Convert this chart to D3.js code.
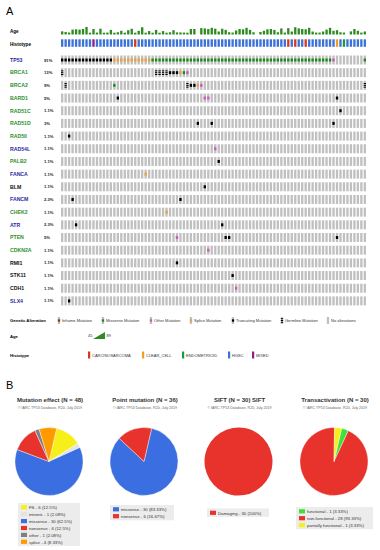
<!DOCTYPE html>
<html>
<head>
<meta charset="UTF-8">
<script src="https://d3js.org/d3.v7.min.js"></script>
<style>
  body { margin: 0; background: #fff; }
  svg { font-family: Arial, "Liberation Sans", sans-serif; }
</style>
</head>
<body>
<svg id="chart" width="380" height="550"></svg>
<script>
// ---------- data: panel A (oncoprint) ----------
const genes = ["TP53","BRCA1","BRCA2","BARD1","RAD51C","RAD51D","RAD50","RAD54L","PALB2","FANCA",
               "BLM","FANCM","CHEK2","ATR","PTEN","CDKN2A","RMI1","STK11","CDH1","SLX4"];
const pctLabels = ["91%","13%","9%","5%","1.1%","3%","1.1%","1.1%","1.1%","1.1%",
                   "1.1%","2.3%","1.1%","2.3%","5%","1.1%","1.1%","1.1%","1.1%","1.1%"];

// age per sample (null = missing)
const ages = [
  56,52,48,68,70,68,72,86,47,72,
  48,74,47,48,66,47,50,60,47,64,
  74,47,60,84,47,58,47,66,47,58,
  47,50,64,49,49,48,47,72,72,null,
  78,76,72,80,74,55,74,66,50,48,
  62,72,70,80,66,50,null,52,60,70,
  72,66,50,76,48,78,55,84,76,72,
  70,80,55,48,48,55,68,80,60,64,
  50,48,null,56,72,60,48,55
];
// histotype per sample: H=HGSC, M=MIXED, C=CARCINOSARCOMA, L=CLEAR_CELL, E=ENDOMETRIOID
const histotype = [
  "H","H","H","H","H","H","H","H","H","M",
  "H","H","H","H","H","H","H","H","H","H",
  "H","C","H","H","H","H","H","H","H","H",
  "H","H","H","H","H","H","H","H","H","H",
  "H","H","H","H","H","H","H","H","H","H",
  "H","H","H","H","H","H","H","H","H","H",
  "H","H","H","H","H","C","H","C","H","H",
  "C","H","H","H","H","H","H","H","H","L",
  "H","E","H","H","H","H","H","H"
];
// TP53 alteration per sample: T truncating, S splice, M missense, O other, - none
const tp53 = [
  "T","T","T","T","T","T","T","T","T","T",
  "T","T","T","T","T","S","S","S","S","S",
  "S","S","S","S","S","S","M","M","M","M",
  "M","M","M","M","M","M","M","M","M","M",
  "M","M","M","M","M","M","M","M","M","M",
  "M","M","M","M","M","M","M","M","M","M",
  "M","M","M","M","M","M","M","M","M","M",
  "M","M","M","M","M","M","M","M","O","-",
  "-","-","-","-","-","-","-","M"
];
// other genes: [gene, sample, type]  (G = germline)
const otherAlts = [
  ["BRCA1",0,"G"],["BRCA1",27,"G"],["BRCA1",28,"G"],["BRCA1",29,"G"],["BRCA1",30,"G"],
  ["BRCA1",31,"T"],["BRCA1",32,"T"],["BRCA1",33,"T"],["BRCA1",34,"S"],["BRCA1",35,"M"],["BRCA1",36,"O"],
  ["BRCA2",1,"G"],["BRCA2",15,"M"],["BRCA2",36,"G"],["BRCA2",37,"T"],["BRCA2",38,"T"],
  ["BRCA2",39,"S"],["BRCA2",40,"O"],["BRCA2",87,"G"],
  ["BARD1",16,"T"],["BARD1",41,"O"],["BARD1",42,"O"],["BARD1",79,"T"],
  ["RAD51C",80,"T"],
  ["RAD51D",39,"T"],["RAD51D",43,"T"],["RAD51D",78,"T"],
  ["RAD50",2,"T"],
  ["RAD54L",44,"O"],
  ["PALB2",45,"T"],
  ["FANCA",24,"S"],
  ["BLM",41,"T"],
  ["FANCM",3,"T"],["FANCM",34,"T"],
  ["CHEK2",30,"S"],
  ["ATR",4,"T"],["ATR",46,"T"],
  ["PTEN",33,"O"],["PTEN",47,"T"],["PTEN",48,"T"],["PTEN",79,"T"],
  ["CDKN2A",42,"O"],
  ["RMI1",33,"T"],
  ["STK11",49,"T"],
  ["CDH1",50,"O"],
  ["SLX4",2,"T"]
];
const altLegend = ["Inframe Mutation","Missense Mutation","Other Mutation","Splice Mutation",
                   "Truncating Mutation","Germline Mutation","No alterations"];
const altLegendTypes = ["I","M","O","S","T","G","-"];
const histoLegend = ["CARCINOSARCOMA","CLEAR_CELL","ENDOMETRIOID","HGSC","MIXED"];
const histoLegendCodes = ["C","L","E","H","M"];
const ageRange = [45, 89];

// ---------- data: panel B (pies) ----------
const pieTitles = ["Mutation effect (N = 48)","Point mutation (N = 36)","SIFT (N = 30) SIFT","Transactivation (N = 30)"];
const pieSubtitle = "\u00a9 IARC TP53 Database, R20, July 2019";
const pie1Labels = ["FS","intronic","missense","nonsense","other","splice"];
const pie1Values = [6,1,30,6,1,4];
const pie1Pcts = ["12.5%","2.08%","62.5%","12.5%","2.08%","8.33%"];
const pie2Labels = ["missense","nonsense"];
const pie2Values = [30,6];
const pie2Pcts = ["83.33%","16.67%"];
const pie3Labels = ["Damaging"];
const pie3Values = [30];
const pie3Pcts = ["100%"];
const pie4Labels = ["functional","non-functional","partially functional"];
const pie4Values = [1,28,1];
const pie4Pcts = ["3.33%","93.33%","3.33%"];

// ---------- styles ----------
const blueG = "#2a2aa0", greenG = "#2f8f2f", blackG = "#111";
const geneColor = {TP53:blueG,BRCA1:greenG,BRCA2:greenG,BARD1:greenG,RAD51C:greenG,RAD51D:greenG,
  RAD50:greenG,RAD54L:blueG,PALB2:greenG,FANCA:blueG,BLM:blackG,FANCM:blueG,CHEK2:greenG,ATR:blueG,
  PTEN:greenG,CDKN2A:greenG,RMI1:blackG,STK11:blackG,CDH1:blackG,SLX4:blueG};
const altColor = {T:"#000",M:"#1a8a1a",S:"#e8a040",O:"#cf58bc",I:"#993404",G:"#000"};
const histoColor = {H:"#3d72d6",M:"#8e1d8e",C:"#d9381e",L:"#f0a020",E:"#1c9a3a"};
const ageColor = "#2e8b22";
const cellGray = "#c0c0c0";

const svg = d3.select("#chart");

// ---------- panel A ----------
svg.append("text").attr("x", 6).attr("y", 15).attr("font-size", 11).text("A");

const nS = ages.length;
const x = d3.scaleBand().domain(d3.range(nS)).range([61, 366]).paddingInner(0.33);
const y = d3.scaleBand().domain(genes).range([55.5, 305.4]).paddingInner(0.29);
const ageH = d3.scaleLinear().domain(ageRange).range([1.5, 8]);

// track labels
svg.append("text").attr("x", 10).attr("y", 33).attr("font-size", 4.6).attr("font-weight", "bold").text("Age");
svg.append("text").attr("x", 10).attr("y", 45.5).attr("font-size", 4.6).attr("font-weight", "bold").text("Histotype");

// age bars
svg.append("g").selectAll("rect").data(ages.map((a, i) => ({a, i})).filter(d => d.a != null))
  .join("rect")
  .attr("x", d => x(d.i)).attr("width", x.bandwidth())
  .attr("y", d => 34.5 - ageH(d.a)).attr("height", d => ageH(d.a))
  .attr("fill", ageColor);

// histotype
svg.append("g").selectAll("rect").data(histotype)
  .join("rect")
  .attr("x", (d, i) => x(i)).attr("width", x.bandwidth())
  .attr("y", 39.3).attr("height", 7.5)
  .attr("fill", d => histoColor[d]);

// gene labels and percentages
svg.append("g").selectAll("text").data(genes).join("text")
  .attr("x", 10).attr("y", d => y(d) + y.bandwidth() / 2 + 1.8)
  .attr("font-size", 5.2).attr("font-weight", "bold")
  .attr("fill", d => geneColor[d]).text(d => d);
svg.append("g").selectAll("text").data(pctLabels).join("text")
  .attr("x", 44).attr("y", (d, i) => y(genes[i]) + y.bandwidth() / 2 + 1.5)
  .attr("font-size", 4.2).attr("font-weight", "bold").attr("fill", "#222").text(d => d);

// gray background cells
const cells = [];
genes.forEach(g => d3.range(nS).forEach(i => cells.push({g, i})));
svg.append("g").selectAll("rect").data(cells).join("rect")
  .attr("x", d => x(d.i)).attr("width", x.bandwidth())
  .attr("y", d => y(d.g)).attr("height", y.bandwidth())
  .attr("fill", cellGray);

// alterations
const alts = tp53.map((t, i) => ({g: "TP53", i, t})).filter(d => d.t !== "-")
  .concat(otherAlts.map(([g, i, t]) => ({g, i, t})));

function drawGlyph(sel, cx, cy, w, h, t) {
  if (t === "-") return;
  if (t === "G") {
    [-1.8, 0, 1.8].forEach(o => sel.append("rect")
      .attr("x", cx - w / 2).attr("width", w).attr("y", cy + o - 0.5).attr("height", 1)
      .attr("fill", "#000"));
  } else {
    sel.append("rect").attr("x", cx - w / 2).attr("width", w)
      .attr("y", cy - h / 2).attr("height", h).attr("fill", altColor[t]);
  }
}
const altG = svg.append("g");
alts.forEach(d => drawGlyph(altG, x(d.i) + x.bandwidth() / 2, y(d.g) + y.bandwidth() / 2,
  x.bandwidth(), y.bandwidth() / 3, d.t));

// legends
svg.append("text").attr("x", 10).attr("y", 322).attr("font-size", 4.2).attr("font-weight", "bold").text("Genetic Alteration");
const altLegX = [59, 103, 151, 191, 233, 282, 328];
const legG = svg.append("g");
altLegend.forEach((lab, k) => {
  legG.append("rect").attr("x", altLegX[k] - 1.2).attr("width", 2.3)
    .attr("y", 317).attr("height", 7).attr("fill", cellGray);
  drawGlyph(legG, altLegX[k], 320.5, 2.3, 2.4, altLegendTypes[k]);
  legG.append("text").attr("x", altLegX[k] + 3).attr("y", 322)
    .attr("font-size", 4).attr("fill", "#333").text(lab);
});

svg.append("text").attr("x", 10).attr("y", 338).attr("font-size", 4.2).attr("font-weight", "bold").text("Age");
svg.append("text").attr("x", 88).attr("y", 337).attr("font-size", 4).attr("fill", "#333").text(ageRange[0]);
svg.append("path").attr("d", "M93,339 L105,339 L105,332 Z").attr("fill", ageColor);
svg.append("text").attr("x", 106.5).attr("y", 337).attr("font-size", 4).attr("fill", "#333").text(ageRange[1]);

svg.append("text").attr("x", 10).attr("y", 357).attr("font-size", 4.2).attr("font-weight", "bold").text("Histotype");
const histoLegX = [88, 142, 182, 228, 252];
histoLegend.forEach((lab, k) => {
  svg.append("rect").attr("x", histoLegX[k]).attr("y", 351.5).attr("width", 2.2).attr("height", 7)
    .attr("fill", histoColor[histoLegendCodes[k]]);
  svg.append("text").attr("x", histoLegX[k] + 4).attr("y", 357)
    .attr("font-size", 4).attr("fill", "#333").text(lab);
});

// ---------- panel B ----------
svg.append("text").attr("x", 6).attr("y", 389).attr("font-size", 11).text("B");

const pies = [
  {labels: pie1Labels, values: pie1Values, pcts: pie1Pcts,
   colors: ["#f7ef1a","#e3e3e3","#3b6ee0","#e8322c","#7d8088","#ff9a00"],
   cx: 49, legX: 18, legY: 503, legW: 62, box: true},
  {labels: pie2Labels, values: pie2Values, pcts: pie2Pcts,
   colors: ["#3b6ee0","#e8322c"], cx: 144, legX: 110, legY: 505, legW: 64, box: true},
  {labels: pie3Labels, values: pie3Values, pcts: pie3Pcts,
   colors: ["#e8322c"], cx: 238.5, legX: 207, legY: 508.5, legW: 62, box: true},
  {labels: pie4Labels, values: pie4Values, pcts: pie4Pcts,
   colors: ["#3fe03a","#e8322c","#f7ef1a"], cx: 334, legX: 296, legY: 507, legW: 77, box: true}
];
const startA = 13 * Math.PI / 180;
const pieGen = d3.pie().sort(null).value(d => d).startAngle(startA).endAngle(startA + 2 * Math.PI);
const arc = d3.arc().innerRadius(0).outerRadius(34);
const pieCy = 461.5;

pies.forEach((p, k) => {
  svg.append("text").attr("x", p.cx + 1).attr("y", 402).attr("text-anchor", "middle")
    .attr("font-size", 6).attr("font-weight", "bold").attr("fill", "#333").text(pieTitles[k]);
  svg.append("text").attr("x", p.cx + 1).attr("y", 409).attr("text-anchor", "middle")
    .attr("font-size", 3.6).attr("fill", "#666").text(pieSubtitle);

  const g = svg.append("g").attr("transform", `translate(${p.cx},${pieCy})`);
  g.selectAll("path").data(pieGen(p.values)).join("path")
    .attr("d", arc).attr("fill", (d, i) => p.colors[i])
    .attr("stroke", "#fff").attr("stroke-width", p.values.length > 1 ? 0.4 : 0);

  const rowH = 6.9;
  if (p.box) {
    svg.append("rect").attr("x", p.legX).attr("y", p.legY)
      .attr("width", p.legW).attr("height", p.labels.length * rowH + 1.5)
      .attr("fill", "#ececec");
  }
  p.labels.forEach((lab, j) => {
    const yy = p.legY + 1 + j * rowH;
    svg.append("rect").attr("x", p.legX + 3).attr("y", yy + 1.2).attr("width", 6).attr("height", 4.2)
      .attr("fill", p.colors[j]);
    svg.append("text").attr("x", p.legX + 11).attr("y", yy + 5)
      .attr("font-size", 4.3).attr("fill", "#333")
      .text(`${lab} - ${p.values[j]} (${p.pcts[j]})`);
  });
});
</script>
</body>
</html>
